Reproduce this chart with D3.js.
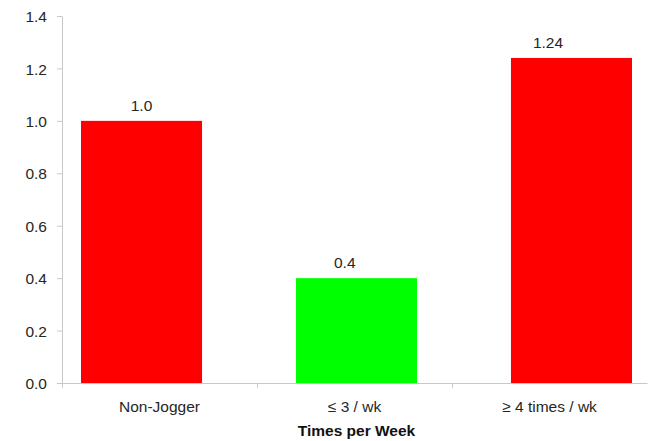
<!DOCTYPE html>
<html>
<head>
<meta charset="utf-8">
<script src="https://cdn.jsdelivr.net/npm/d3@7"></script>
<style>
  html, body { margin: 0; padding: 0; background: #fff; }
  svg { display: block; font-family: "Liberation Sans", "DejaVu Sans", sans-serif; }
</style>
</head>
<body>
<svg id="chart" width="648" height="441"></svg>
<script>
// Relative value by jogging frequency
const categories = ["Non-Jogger", "\u2264 3 / wk", "\u2265 4 times / wk"];
const values = [1.0, 0.4, 1.24];
const valueLabels = ["1.0", "0.4", "1.24"];
const barColors = ["#ff0000", "#00ff00", "#ff0000"];
const yTicks = [0, 0.2, 0.4, 0.6, 0.8, 1.0, 1.2, 1.4];
const xTitle = "Times per Week";

(function draw() {
  const svg = d3.select("#chart");
  const plotLeft = 62, plotRight = 647, plotTop = 16, plotBottom = 383;
  const axisColor = "#c8c8c8", textColor = "#262626";

  const y = d3.scaleLinear().domain([0, 1.4]).range([plotBottom, plotTop]);

  // category slots along the axis
  const xAxisScale = d3.scaleBand().domain(categories).range([plotLeft, plotRight]);
  // bar placement
  const xBar = d3.scaleBand().domain(categories).range([81, 632])
    .paddingInner(0.437).paddingOuter(0);
  // value label placement
  const xLabel = d3.scalePoint().domain(categories).range([141.5, 548]);

  // bars
  svg.append("g").selectAll("rect").data(categories).join("rect")
    .attr("x", d => xBar(d))
    .attr("width", xBar.bandwidth())
    .attr("y", (d, i) => y(values[i]))
    .attr("height", (d, i) => y(0) - y(values[i]))
    .attr("fill", (d, i) => barColors[i]);

  // y axis
  const yAxis = svg.append("g").attr("transform", `translate(${plotLeft},0)`)
    .call(d3.axisLeft(y).tickValues(yTicks).tickFormat(d3.format(".1f"))
      .tickSizeInner(5).tickSizeOuter(0).tickPadding(10));
  yAxis.select(".domain").attr("stroke", axisColor);
  yAxis.selectAll(".tick line").attr("stroke", axisColor);
  yAxis.selectAll(".tick text").attr("fill", textColor).attr("font-size", 15.5)
    .attr("dy", "0.36em");
  // axis line extends slightly below the baseline
  svg.append("line").attr("x1", plotLeft + 0.5).attr("x2", plotLeft + 0.5)
    .attr("y1", plotBottom).attr("y2", plotBottom + 5).attr("stroke", axisColor);

  // x axis
  const xAxis = svg.append("g").attr("transform", `translate(0,${plotBottom})`)
    .call(d3.axisBottom(xAxisScale).tickSize(0).tickPadding(18));
  xAxis.select(".domain").attr("stroke", axisColor);
  xAxis.selectAll(".tick text").attr("fill", textColor).attr("font-size", 15.5);
  // dividers between categories
  svg.append("g").selectAll("line").data(categories.slice(1)).join("line")
    .attr("x1", d => Math.round(xAxisScale(d)) + 0.5)
    .attr("x2", d => Math.round(xAxisScale(d)) + 0.5)
    .attr("y1", plotBottom).attr("y2", plotBottom + 5)
    .attr("stroke", axisColor);

  // value labels
  svg.append("g").selectAll("text").data(categories).join("text")
    .attr("x", d => xLabel(d))
    .attr("y", (d, i) => y(values[i]) - 10)
    .attr("text-anchor", "middle")
    .attr("fill", textColor)
    .attr("font-size", 15.5)
    .text((d, i) => valueLabels[i]);

  // axis title
  svg.append("text")
    .attr("x", (plotLeft + plotRight) / 2 + 2)
    .attr("y", 436)
    .attr("text-anchor", "middle")
    .attr("font-weight", "bold")
    .attr("font-size", 15.5)
    .attr("fill", "#111")
    .text(xTitle);
})();
</script>
</body>
</html>
